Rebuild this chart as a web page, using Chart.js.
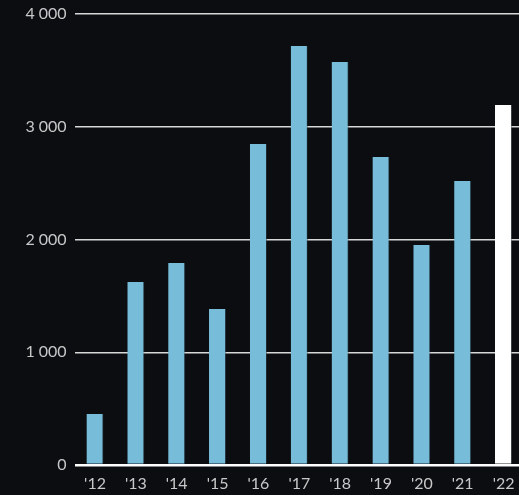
<!DOCTYPE html>
<html lang="en">
<head>
  <meta charset="UTF-8" />
  <title>Yearly bars</title>
  <script src="https://cdn.jsdelivr.net/npm/chart.js"></script>
  <style>
    html, body {
      margin: 0;
      padding: 0;
      background: #0b0d11;
      overflow: hidden;
    }
    #chart-container {
      width: 524px;
      height: 495px;
    }
  </style>
</head>
<body>
  <div id="chart-container">
    <canvas id="barChart"></canvas>
  </div>

  <script>
    const years = ["'12", "'13", "'14", "'15", "'16", "'17", "'18", "'19", "'20", "'21", "'22"];
    const values = [452, 1623, 1792, 1384, 2847, 3716, 3574, 2732, 1951, 2519, 3193];
    const barColors = ['#77bcd8', '#77bcd8', '#77bcd8', '#77bcd8', '#77bcd8', '#77bcd8',
                       '#77bcd8', '#77bcd8', '#77bcd8', '#77bcd8', '#ffffff'];
    const yTicks = [0, 1000, 2000, 3000, 4000];

    const fmt = v => String(v).replace(/\B(?=(\d{3})+(?!\d))/g, ' ');

    const ctx = document.getElementById('barChart').getContext('2d');
    new Chart(ctx, {
      type: 'bar',
      data: {
        labels: years,
        datasets: [{
          data: values,
          backgroundColor: barColors,
          borderColor: 'rgba(40, 60, 70, 0.5)',
          borderWidth: { left: 0, right: 1, top: 0, bottom: 0 },
          barPercentage: 0.42,
          categoryPercentage: 1
        }]
      },
      options: {
        responsive: true,
        maintainAspectRatio: false,
        animation: false,
        layout: { padding: { top: 14, right: 0, left: 0, bottom: 0 } },
        plugins: {
          legend: { display: false },
          tooltip: { enabled: false }
        },
        scales: {
          x: {
            grid: { display: false },
            border: { display: false },
            afterFit: axis => { axis.height = 30; },
            ticks: {
              color: '#c8c8c8',
              font: { family: 'Lato', size: 16 },
              padding: 1,
              maxRotation: 0
            }
          },
          y: {
            min: 0,
            max: 4000,
            afterBuildTicks: axis => { axis.ticks = yTicks.map(v => ({ value: v })); },
            afterFit: axis => {
              axis.width = 74.6;
              axis.paddingTop = 0;
              axis.paddingBottom = 0;
            },
            border: { display: false },
            grid: {
              drawTicks: false,
              color: c => c.tick && c.tick.value === 0 ? '#ffffff' : '#d8d8d8',
              lineWidth: c => c.tick && c.tick.value === 0 ? 2.5 : 1.5
            },
            ticks: {
              color: '#c8c8c8',
              font: { family: 'Lato', size: 16 },
              padding: 8,
              callback: v => fmt(v)
            }
          }
        }
      }
    });
  </script>
</body>
</html>
